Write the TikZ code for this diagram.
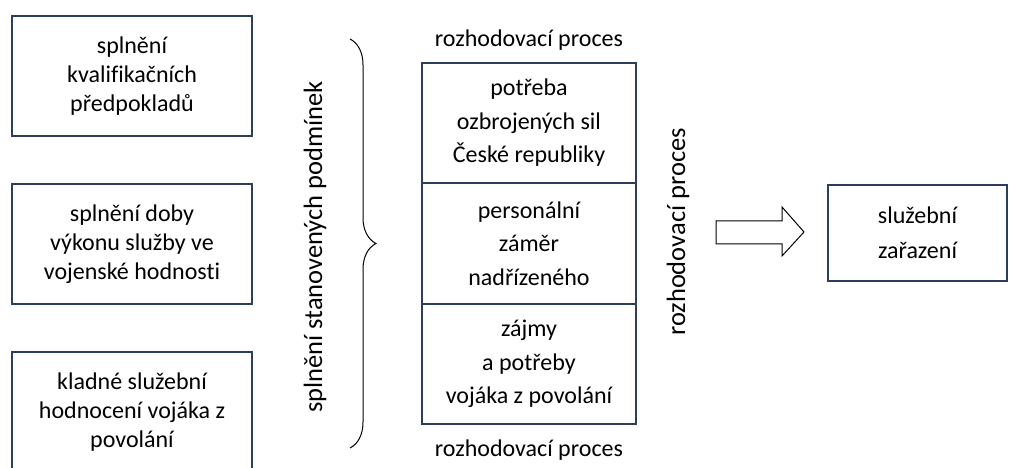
\documentclass[tikz,border=0pt]{standalone}
\usepackage{fontspec}
\setmainfont{Carlito}[Ligatures=NoCommon]
\usepackage{tikz}
\usetikzlibrary{positioning, decorations.pathreplacing}
\definecolor{boxline}{RGB}{44,62,94}

\begin{document}
\begin{tikzpicture}[x=1pt, y=1pt,
    cond/.style={draw=boxline, line width=1.8pt, minimum width=240pt, minimum height=120pt,
                 align=center, inner sep=0pt, font={\fontsize{24}{29}\selectfont}},
    cell/.style={draw=boxline, line width=1.8pt, minimum width=214pt, minimum height=120.5pt,
                 align=center, inner sep=0pt, outer sep=0pt, font={\fontsize{24}{33.5}\selectfont}},
    lbl/.style={font={\fontsize{24}{29}\selectfont}, inner sep=0pt},
    vlbl/.style={font={\fontsize{26.5}{32}\selectfont}, inner sep=0pt, rotate=90}]
\useasboundingbox (0,0) rectangle (1009,468);
%
% podminky
\node[cond] (kval) at (132,392) {splnění\\ kvalifikačních\\ předpokladů};
\node[cond] (doba) at (132,224) {splnění doby\\ výkonu služby ve\\ vojenské hodnosti};
\node[cond] (hodn) at (132,56) {kladné služební\\ hodnocení vojáka z\\ povolání};
%
\coordinate (brtop) at (350,429);
\coordinate (brbot) at (350,20);
\draw[line width=1pt, decorate, decoration={brace, amplitude=26pt}] (brtop) -- (brbot);
\node[vlbl] (splneni) at (315,221) {splnění stanovených podmínek};
%
% rozhodovaci proces
\node[cell] (potreba) at (529,345) {potřeba\\ ozbrojených sil\\ České republiky};
\node[cell, below=0pt of potreba] (zamer) {personální\\ záměr\\ nadřízeného};
\node[cell, below=0pt of zamer] (zajmy) {zájmy\\ a potřeby\\ vojáka z povolání};
\node[lbl] (proctop) at (529,428) {rozhodovací proces};
\node[lbl] (procbot) at (529,18) {rozhodovací proces};
\node[vlbl] (procright) at (678,236) {rozhodovací proces};
%
% sipka
\draw[line width=1pt, line join=miter]
  (716,247) -- (782,247) -- (782,261) -- (804,236) -- (782,212) -- (782,224) -- (716,224) -- cycle;
%
\node[draw=boxline, line width=1.8pt, minimum width=179pt, minimum height=96pt,
      align=center, inner sep=0pt, font={\fontsize{24}{35}\selectfont}] (zarazeni) at (917.5,235)
  {služební\\ zařazení};
\end{tikzpicture}
\end{document}
